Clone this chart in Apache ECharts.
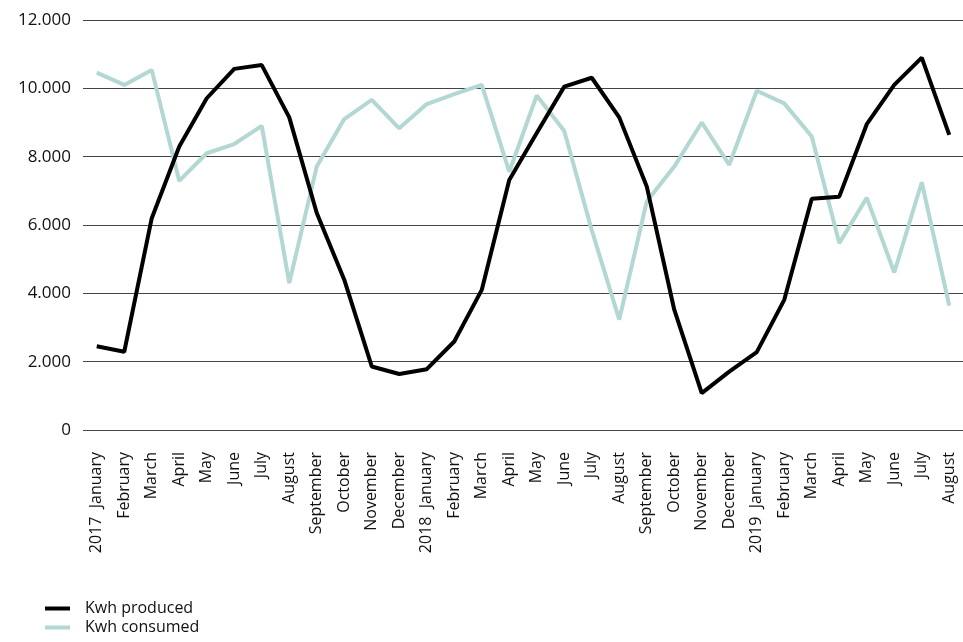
<!DOCTYPE html>
<html>
<head>
<meta charset="utf-8">
<script src="https://cdn.jsdelivr.net/npm/echarts@6/dist/echarts.min.js"></script>
<style>html,body{margin:0;padding:0;background:#fff}#c{width:963px;height:642px}</style>
</head>
<body>
<div id="c"></div>
<script>
var categories = [
  "2017  January","February","March","April","May","June","July","August","September","October","November","December",
  "2018  January","February","March","April","May","June","July","August","September","October","November","December",
  "2019  January","February","March","April","May","June","July","August"
];
var produced = [2450,2290,6200,8300,9710,10570,10680,9150,6350,4400,1860,1640,1780,2590,4100,7320,8690,10050,10310,9150,7130,3520,1080,1710,2280,3810,6770,6830,8950,10100,10900,8640];
var consumed = [10460,10100,10540,7290,8100,8370,8900,4300,7710,9100,9660,8830,9540,9830,10100,7560,9790,8750,5850,3230,6690,7710,9000,7760,9930,9560,8590,5470,6800,4610,7250,3640];
var yTicks = {min:0, max:12000, interval:2000};

var chart = echarts.init(document.getElementById('c'));
var font = '"Open Sans", sans-serif';
chart.setOption({
  animation:false,
  backgroundColor:'#fff',
  grid:{left:83, top:20, width:885, height:410},
  legend:{
    orient:'vertical', left:45, top:600, padding:0, icon:'rect', itemWidth:25, itemHeight:4, itemGap:2,
    data:['Kwh produced','Kwh consumed'],
    textStyle:{fontFamily:font, fontSize:16, fontWeight:500, lineHeight:17, color:'#111', padding:[0,0,0,10]}
  },
  xAxis:{
    type:'category', data:categories, boundaryGap:true,
    axisLine:{show:false}, axisTick:{show:false},
    axisLabel:{rotate:90, interval:0, margin:22, fontFamily:font, fontSize:16, fontWeight:500, color:'#111'}
  },
  yAxis:{
    type:'value', min:yTicks.min, max:yTicks.max, interval:yTicks.interval,
    axisLine:{show:false}, axisTick:{show:false},
    splitLine:{lineStyle:{color:'#444', width:1}},
    axisLabel:{margin:12, fontFamily:font, fontSize:17, fontWeight:500, color:'#111',
      formatter:function(v){return String(v).replace(/\B(?=(\d{3})+(?!\d))/g,'.');}}
  },
  series:[
    {name:'Kwh produced', type:'line', data:produced, symbol:'none', z:3,
     lineStyle:{color:'#000', width:4}, itemStyle:{color:'#000'}},
    {name:'Kwh consumed', type:'line', data:consumed, symbol:'none', z:2,
     lineStyle:{color:'#b3d7d2', width:4}, itemStyle:{color:'#b3d7d2'}}
  ]
});
</script>
</body>
</html>
